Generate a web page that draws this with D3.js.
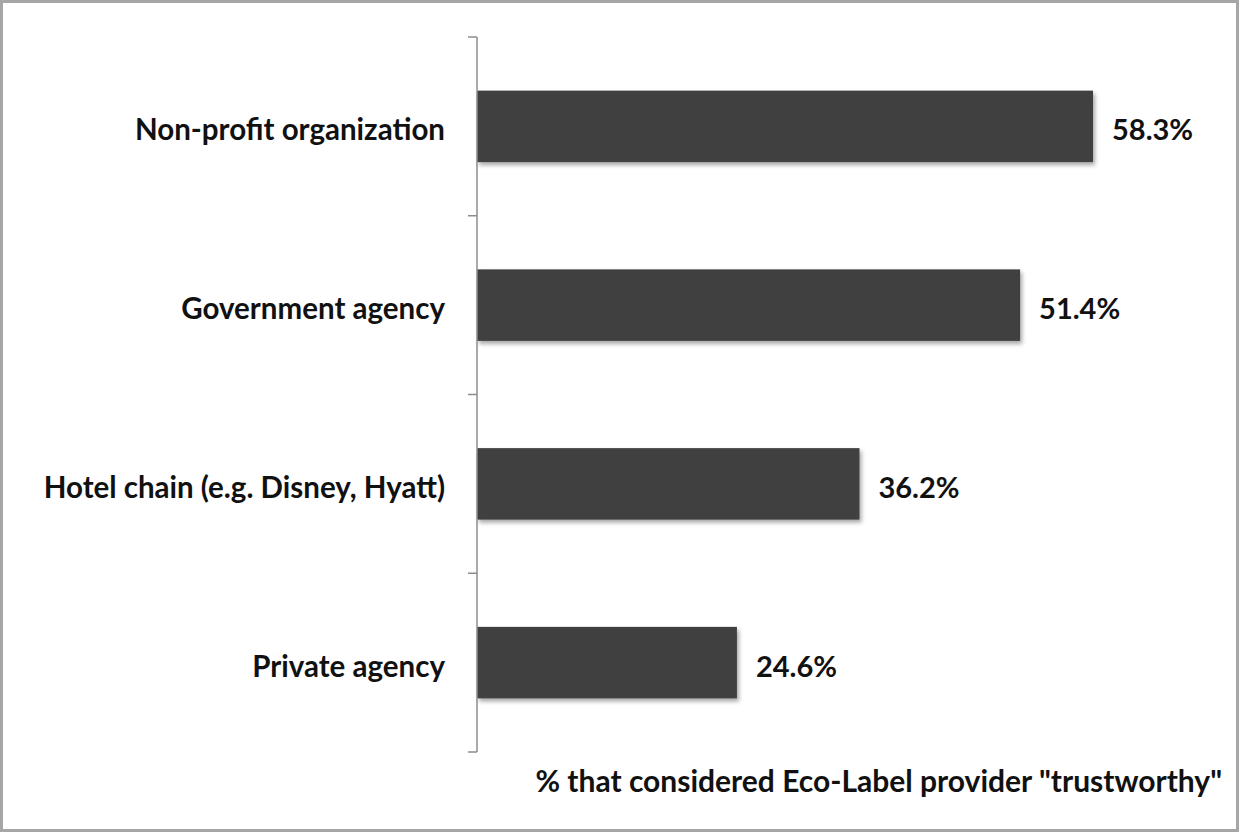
<!DOCTYPE html>
<html>
<head>
<meta charset="utf-8">
<script src="https://cdn.jsdelivr.net/npm/d3@7"></script>
<style>
  html, body { margin: 0; padding: 0; background: #fff; }
  svg text { font-family: Lato, "Open Sans", sans-serif; font-weight: 700; fill: #111; }
</style>
</head>
<body>
<svg id="chart" width="1239" height="832"></svg>
<script>
// Providers of eco-labels and share of respondents who trust each
const categories = ["Non-profit organization", "Government agency", "Hotel chain (e.g. Disney, Hyatt)", "Private agency"];
const values = [58.3, 51.4, 36.2, 24.6];
const valueLabels = ["58.3%", "51.4%", "36.2%", "24.6%"];
const axisTitle = "% that considered Eco-Label provider \"trustworthy\"";

const W = 1239, H = 832;
const svg = d3.select("#chart");

// outer frame
svg.append("rect").attr("x", 1.5).attr("y", 1.5).attr("width", W - 3).attr("height", H - 3)
  .attr("fill", "#fff").attr("stroke", "#a6a6a6").attr("stroke-width", 3);

const defs = svg.append("defs");
const f = defs.append("filter").attr("id", "shadow").attr("x", "-5%").attr("y", "-20%").attr("width", "115%").attr("height", "150%");
f.append("feDropShadow").attr("dx", 2).attr("dy", 3).attr("stdDeviation", 2).attr("flood-color", "#000").attr("flood-opacity", 0.35);

const plot = { left: 477, top: 37, bottom: 752 };

const x = d3.scaleLinear().domain([0, 58.3]).range([plot.left, 1093]);
const y = d3.scaleBand().domain(categories).range([plot.top, plot.bottom]).paddingInner(0.6).paddingOuter(0.3);

// bars
svg.append("g").selectAll("rect").data(values).join("rect")
  .attr("x", x(0))
  .attr("y", (d, i) => y(categories[i]))
  .attr("width", d => x(d) - x(0))
  .attr("height", y.bandwidth())
  .attr("fill", "#404040")
  .attr("filter", "url(#shadow)");

// category axis with tick marks between bands
const axisG = svg.append("g");
axisG.append("line").attr("x1", plot.left).attr("x2", plot.left).attr("y1", plot.top).attr("y2", plot.bottom)
  .attr("stroke", "#8c8c8c").attr("stroke-width", 1.5);
const step = (plot.bottom - plot.top) / categories.length;
const tickYs = d3.range(categories.length + 1).map(i => plot.top + i * step);
axisG.selectAll("line.tick").data(tickYs).join("line").attr("class", "tick")
  .attr("x1", plot.left - 9).attr("x2", plot.left).attr("y1", d => d).attr("y2", d => d)
  .attr("stroke", "#8c8c8c").attr("stroke-width", 1.5);

const bandCenter = c => plot.top + (categories.indexOf(c) + 0.5) * step;

axisG.selectAll("text.cat").data(categories).join("text").attr("class", "cat")
  .attr("x", 445).attr("y", d => bandCenter(d) + 14)
  .attr("text-anchor", "end").attr("font-size", 29.5).text(d => d);

// value labels
svg.append("g").selectAll("text").data(values).join("text")
  .attr("x", d => x(d) + 19).attr("y", (d, i) => y(categories[i]) + y.bandwidth() / 2 + 14)
  .attr("font-size", 29).text((d, i) => valueLabels[i]);

// axis title
svg.append("text").attr("x", 1222).attr("y", 792).attr("text-anchor", "end")
  .attr("font-size", 30).text(axisTitle);
</script>
</body>
</html>
